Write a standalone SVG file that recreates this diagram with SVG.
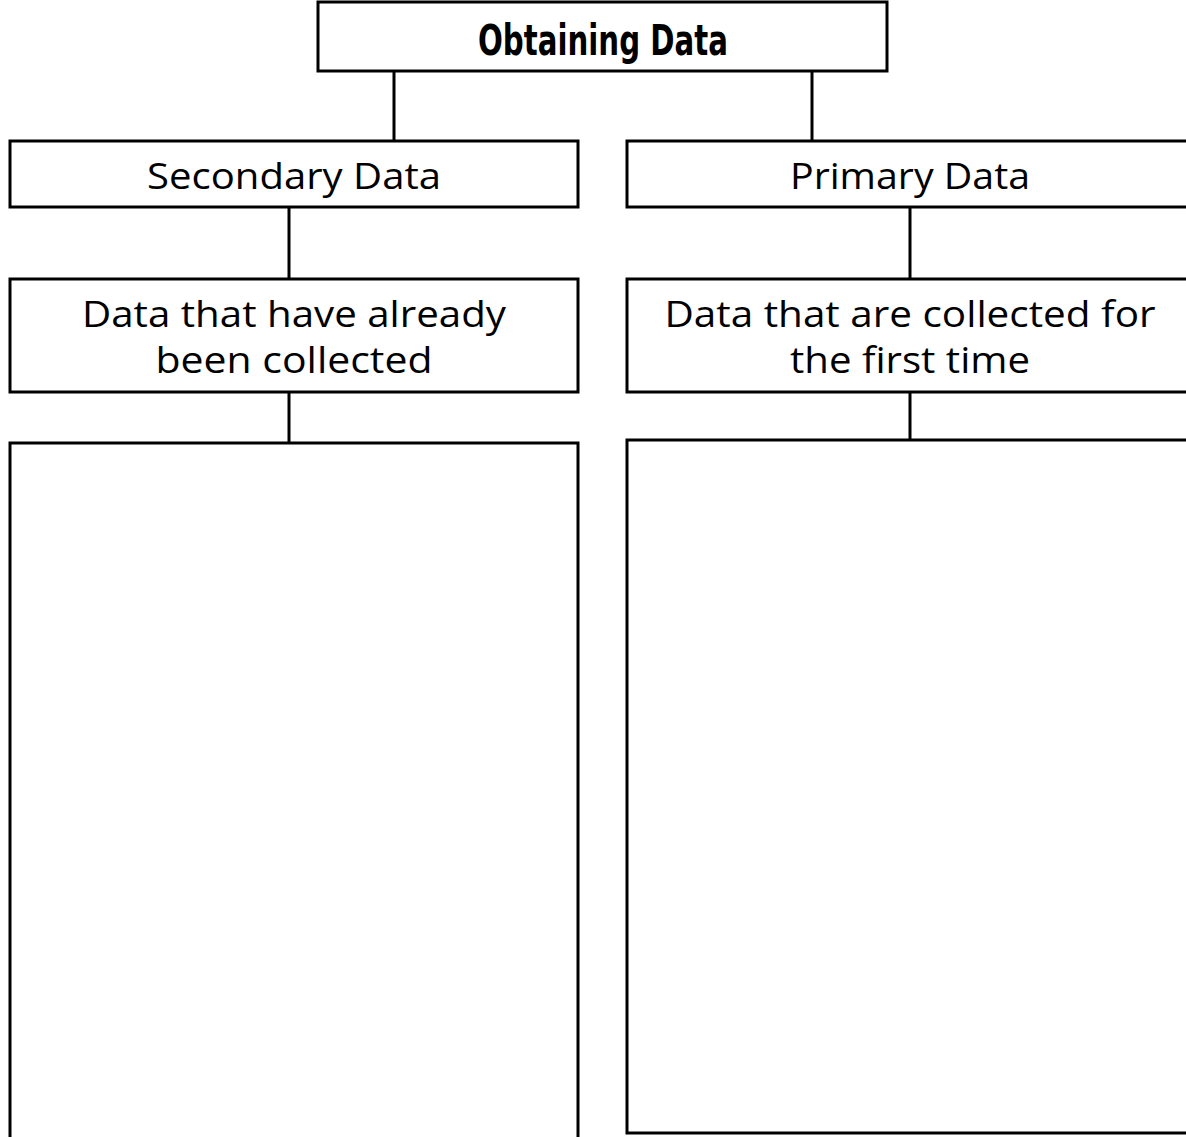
<svg xmlns="http://www.w3.org/2000/svg" width="1186" height="1137" viewBox="0 0 1186 1137">
<style>
.box{fill:#fff;stroke:#000;stroke-width:3}
.con{stroke:#000;stroke-width:3;fill:none}
.t{font-family:"Open Sans","DejaVu Sans",sans-serif;font-size:37px;fill:#000;text-anchor:middle}
.h{font-family:"DejaVu Sans","Liberation Sans",sans-serif;font-weight:bold;font-size:43px;fill:#000;text-anchor:middle}
</style>
<rect width="1186" height="1137" fill="#fff"/>
<g id="connectors">
<line class="con" x1="394" y1="71" x2="394" y2="141"/>
<line class="con" x1="812" y1="71" x2="812" y2="141"/>
<line class="con" x1="289" y1="207" x2="289" y2="279"/>
<line class="con" x1="910" y1="207" x2="910" y2="279"/>
<line class="con" x1="289" y1="392" x2="289" y2="443"/>
<line class="con" x1="910" y1="392" x2="910" y2="440"/>
</g>
<g id="obtaining">
<rect class="box" x="318" y="2" width="569" height="69"/>
<text class="h" x="603" y="55" textLength="250" lengthAdjust="spacingAndGlyphs">Obtaining Data</text>
</g>
<g id="secondary">
<rect class="box" x="10" y="141" width="568" height="66"/>
<text class="t" x="294" y="189" textLength="294" lengthAdjust="spacingAndGlyphs">Secondary Data</text>
</g>
<g id="primary">
<rect class="box" x="627" y="141" width="600" height="66"/>
<text class="t" x="910" y="189" textLength="240" lengthAdjust="spacingAndGlyphs">Primary Data</text>
</g>
<g id="secondary-def">
<rect class="box" x="10" y="279" width="568" height="113"/>
<text class="t" x="294" y="327" textLength="424" lengthAdjust="spacingAndGlyphs">Data that have already</text>
<text class="t" x="294" y="373" textLength="277" lengthAdjust="spacingAndGlyphs">been collected</text>
</g>
<g id="primary-def">
<rect class="box" x="627" y="279" width="600" height="113"/>
<text class="t" x="910" y="327" textLength="491" lengthAdjust="spacingAndGlyphs">Data that are collected for</text>
<text class="t" x="910" y="373" textLength="240" lengthAdjust="spacingAndGlyphs">the first time</text>
</g>
<g id="secondary-list">
<rect class="box" x="10" y="443" width="568" height="720"/>
</g>
<g id="primary-list">
<rect class="box" x="627" y="440" width="600" height="693"/>
</g>
</svg>
